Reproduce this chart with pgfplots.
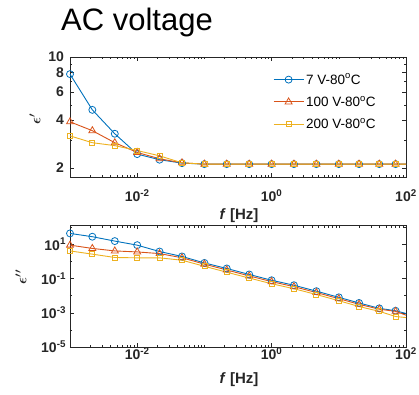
\documentclass[border=0pt]{standalone}
\usepackage{fontspec}
\setmainfont{Liberation Sans}
\usepackage{pgfplots}
\usepackage{pgfplotstable}
\pgfplotsset{compat=1.18}
\definecolor{mblue}{rgb}{0,0.447,0.741}
\definecolor{mred}{rgb}{0.85,0.325,0.098}
\definecolor{myel}{rgb}{0.929,0.694,0.125}
\definecolor{axc}{rgb}{0.15,0.15,0.15}

\pgfplotstableread{
f b r y
0.001 7.8 3.9 3.18
0.00215 4.64 3.43 2.88
0.00464 3.28 2.88 2.76
0.01 2.44 2.50 2.57
0.0215 2.25 2.28 2.38
0.0464 2.14 2.15 2.15
0.1 2.11 2.11 2.11
0.215 2.11 2.11 2.11
0.464 2.11 2.11 2.11
1 2.11 2.11 2.11
2.15 2.11 2.11 2.11
4.64 2.11 2.11 2.11
10 2.11 2.11 2.11
20 2.11 2.11 2.11
40 2.11 2.11 2.11
70 2.11 2.11 2.11
100 2.11 2.11 2.11
}\topdata

\pgfplotstableread{
f b r y
0.001 42 8.7 4.0
0.00215 27 5.6 2.6
0.00464 15 4.0 1.66
0.01 8.7 3.5 1.58
0.0215 3.7 2.8 1.58
0.0464 1.9 1.6 1.15
0.1 0.8 0.68 0.51
0.215 0.38 0.31 0.23
0.464 0.17 0.14 0.105
1 0.078 0.065 0.049
2.15 0.04 0.033 0.025
4.64 0.018 0.015 0.0115
10 0.0079 0.0066 0.005
20 0.0037 0.0031 0.0023
40 0.0018 0.0016 0.0012
70 0.0013 0.0012 0.0006
100 0.0009 0.00072 0.00052
}\botdata

\begin{document}
\begin{tikzpicture}
\path[use as bounding box] (0pt,0pt) rectangle (419pt,394pt);
\node[anchor=base west, font=\fontsize{31}{31}\selectfont, inner sep=0pt] at (61pt,363.3pt) {AC voltage};

\begin{axis}[
  xmode=log, ymode=log,
  scale only axis, width=336pt, height=120pt,
  at={(70pt,217pt)}, anchor=south west,
  xmin=1e-3, xmax=1e2,
  ymin=1.75, ymax=10,
  clip=false,
  tick align=inside,
  major tick length=4pt, minor tick length=2.5pt,
  axis line style={axc, line width=0.5pt},
  tick style={axc, line width=0.4pt},
  tick label style={font=\bfseries\fontsize{14}{14}\selectfont, text=axc},
  xtick={1e-2,1,1e2},
  xticklabels={10\textsuperscript{-2},10\textsuperscript{0},10\textsuperscript{2}},
  minor xtick={0.002,0.003,0.004,0.005,0.006,0.007,0.008,0.009,
      0.02,0.03,0.04,0.05,0.06,0.07,0.08,0.09,0.1,
      0.2,0.3,0.4,0.5,0.6,0.7,0.8,0.9,
      2,3,4,5,6,7,8,9,10,20,30,40,50,60,70,80,90},
  ytick={2,4,6,8,10}, yticklabels={2,4,6,8,10},
  minor ytick={3,5,7,9},
  xticklabel style={yshift=-9pt},
  yticklabel style={xshift=-2.5pt},
  legend style={at={(0.604,0.879)}, anchor=north west, draw=none, fill=none,
    font=\fontsize{13.5}{13.5}\selectfont, row sep=6.5pt, inner sep=0pt, cells={anchor=west}},
  legend image code/.code={\draw (0pt,0pt) -- (30pt,0pt); \draw plot coordinates {(15pt,0pt)};},
]
\addplot[mblue, line width=0.9pt, mark=o, mark size=3.5pt, mark options={solid, line width=0.8pt}, mark indices={1,2,3,4,5,6,7,8,9,10,11,12,13,14,15,16}] table[x=f,y=b] {\topdata};
\addlegendentry{7 V-80\textsuperscript{o}C}
\addplot[mred, line width=0.9pt, mark=triangle, mark size=4pt, mark options={solid, line width=0.8pt}, mark indices={1,2,3,4,5,6,7,8,9,10,11,12,13,14,15,16}] table[x=f,y=r] {\topdata};
\addlegendentry{100 V-80\textsuperscript{o}C}
\addplot[myel, line width=0.9pt, mark=square, mark size=2.5pt, mark options={solid, line width=0.8pt}, mark indices={1,2,3,4,5,6,7,8,9,10,11,12,13,14,15,16}] table[x=f,y=y] {\topdata};
\addlegendentry{200 V-80\textsuperscript{o}C}
\end{axis}

\begin{axis}[
  xmode=log, ymode=log,
  scale only axis, width=336pt, height=122pt,
  at={(70pt,47pt)}, anchor=south west,
  xmin=1e-3, xmax=1e2,
  ymin=1e-5, ymax=130,
  clip=false,
  tick align=inside,
  major tick length=4pt, minor tick length=2.5pt,
  axis line style={axc, line width=0.5pt},
  tick style={axc, line width=0.4pt},
  tick label style={font=\bfseries\fontsize{14}{14}\selectfont, text=axc},
  xtick={1e-2,1,1e2},
  xticklabels={10\textsuperscript{-2},10\textsuperscript{0},10\textsuperscript{2}},
  minor xtick={0.002,0.003,0.004,0.005,0.006,0.007,0.008,0.009,
      0.02,0.03,0.04,0.05,0.06,0.07,0.08,0.09,0.1,
      0.2,0.3,0.4,0.5,0.6,0.7,0.8,0.9,
      2,3,4,5,6,7,8,9,10,20,30,40,50,60,70,80,90},
  ytick={1e-5,1e-3,1e-1,1e1},
  yticklabels={10\textsuperscript{-5},10\textsuperscript{-3},10\textsuperscript{-1},10\textsuperscript{1}},
  minor ytick={1e-4,1e-2,1,1e2},
  xticklabel style={yshift=3pt},
  yticklabel style={xshift=-0.5pt},
]
\addplot[mblue, line width=0.9pt, mark=o, mark size=3.5pt, mark options={solid, line width=0.8pt}, mark indices={1,2,3,4,5,6,7,8,9,10,11,12,13,14,15,16}] table[x=f,y=b] {\botdata};
\addplot[mred, line width=0.9pt, mark=triangle, mark size=4pt, mark options={solid, line width=0.8pt}, mark indices={1,2,3,4,5,6,7,8,9,10,11,12,13,14,15,16}] table[x=f,y=r] {\botdata};
\addplot[myel, line width=0.9pt, mark=square, mark size=2.5pt, mark options={solid, line width=0.8pt}, mark indices={1,2,3,4,5,6,7,8,9,10,11,12,13,14,15,16}] table[x=f,y=y] {\botdata};
\end{axis}

\node[font=\bfseries\fontsize{15}{15}\selectfont, text=axc] at (239pt,178pt) {\textit{f} [Hz]};
\node[font=\bfseries\fontsize{15}{15}\selectfont, text=axc] at (239pt,14pt) {\textit{f} [Hz]};
\node[rotate=90, font=\boldmath\fontsize{14}{14}\selectfont, text=axc] at (35pt,275pt) {$\epsilon'$};
\node[rotate=90, font=\boldmath\fontsize{14}{14}\selectfont, text=axc] at (21pt,117pt) {$\epsilon''$};
\end{tikzpicture}
\end{document}
